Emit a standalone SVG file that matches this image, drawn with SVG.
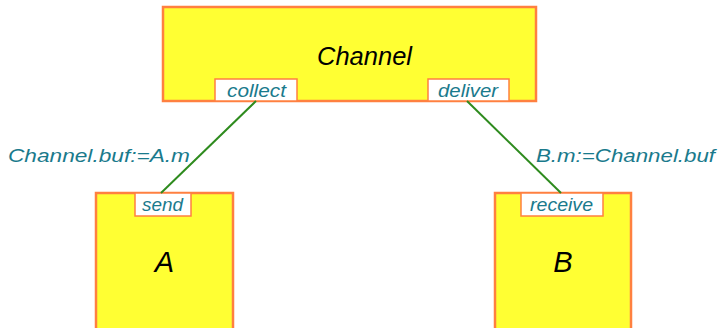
<svg xmlns="http://www.w3.org/2000/svg" width="719" height="328" viewBox="0 0 719 328">
<style>
.box{fill:#ffff33;stroke:#ff8040;stroke-width:2.5}
.port{fill:#ffffff;stroke:#ff8040;stroke-width:1.5}
.t{font-family:"Liberation Sans",Arial,sans-serif;font-style:italic}
.lbl{fill:#1a7a8c;font-size:19px}
.name{fill:#000000}
.conn{stroke:#2e8b1e;stroke-width:2;fill:none}
</style>
<rect width="719" height="328" fill="#ffffff"/>
<g id="Channel">
<rect class="box" x="163" y="7" width="373" height="94"/>
<text class="t name" x="317" y="65" font-size="26" textLength="95" lengthAdjust="spacingAndGlyphs">Channel</text>
<rect class="port" x="215" y="79" width="82" height="22"/>
<text class="t lbl" x="227" y="97" textLength="59" lengthAdjust="spacingAndGlyphs">collect</text>
<rect class="port" x="428" y="79" width="81" height="22"/>
<text class="t lbl" x="438" y="97" textLength="60" lengthAdjust="spacingAndGlyphs">deliver</text>
</g>
<g id="A">
<rect class="box" x="96" y="193" width="137" height="140"/>
<rect class="port" x="135" y="193" width="56" height="23"/>
<text class="t lbl" x="142" y="211" textLength="41" lengthAdjust="spacingAndGlyphs">send</text>
<text class="t name" x="164.5" y="272" font-size="29" text-anchor="middle">A</text>
</g>
<g id="B">
<rect class="box" x="495" y="193" width="136" height="140"/>
<rect class="port" x="521" y="193" width="82" height="23"/>
<text class="t lbl" x="530" y="211" textLength="63" lengthAdjust="spacingAndGlyphs">receive</text>
<text class="t name" x="563" y="272" font-size="29" text-anchor="middle">B</text>
</g>
<g id="connectors">
<line class="conn" x1="256" y1="101" x2="161" y2="193"/>
<line class="conn" x1="467" y1="101" x2="561" y2="193"/>
<text class="t lbl" x="8" y="162" textLength="182" lengthAdjust="spacingAndGlyphs">Channel.buf:=A.m</text>
<text class="t lbl" x="536" y="162" textLength="179" lengthAdjust="spacingAndGlyphs">B.m:=Channel.buf</text>
</g>
</svg>
